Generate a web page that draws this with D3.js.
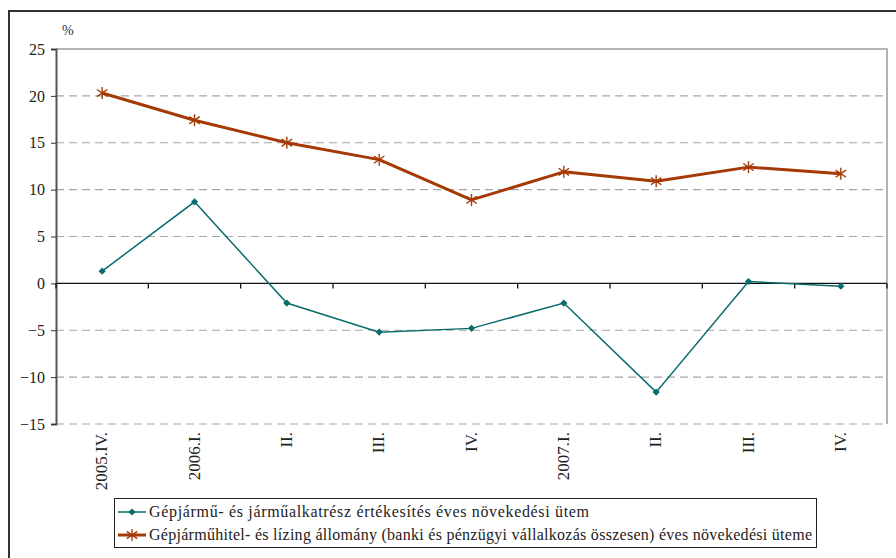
<!DOCTYPE html>
<html>
<head>
<meta charset="utf-8">
<script src="https://cdn.jsdelivr.net/npm/d3@7"></script>
<style>
  html, body { margin: 0; padding: 0; background: #fff; }
  svg { display: block; }
</style>
</head>
<body>
<svg id="chart" width="896" height="558"></svg>
<script>
// Quarterly categories
const categories = ["2005.IV.", "2006.I.", "II.", "III.", "IV.", "2007.I.", "II.", "III.", "IV."];
// Annual growth of vehicle and parts sales (%)
const salesGrowth = [1.3, 8.7, -2.1, -5.2, -4.8, -2.1, -11.6, 0.2, -0.3];
// Annual growth of vehicle loan and leasing stock (%)
const loanGrowth = [20.3, 17.4, 15.0, 13.2, 8.9, 11.9, 10.9, 12.4, 11.7];
const yTicks = [-15, -10, -5, 0, 5, 10, 15, 20, 25];
const seriesNames = [
  "Gépjármű- és járműalkatrész értékesítés éves növekedési ütem",
  "Gépjárműhitel- és lízing állomány (banki és pénzügyi vállalkozás összesen) éves növekedési üteme"
];

const FONT = "'Liberation Serif', 'Times New Roman', serif";
const tealColor = "#0A6B6B";
const brownColor = "#A63A06";

const svg = d3.select("#chart");
const plot = { left: 56, right: 887, top: 49, bottom: 424 };

// Outer frame
svg.append("path")
  .attr("d", "M9,558 L9,11 L896,11")
  .attr("fill", "none").attr("stroke", "#333").attr("stroke-width", 2);

const x = d3.scaleBand().domain(d3.range(categories.length))
  .range([plot.left, plot.right]).paddingInner(0).paddingOuter(0);
const y = d3.scaleLinear().domain([-15, 25]).range([plot.bottom, plot.top]);

// Plot area frame (top and right)
svg.append("path")
  .attr("d", `M${plot.left},${plot.top} L${plot.right},${plot.top} L${plot.right},${plot.bottom}`)
  .attr("fill", "none").attr("stroke", "#9a9a9a").attr("stroke-width", 1.5);

// Dashed gridlines
svg.append("g").selectAll("line")
  .data(yTicks.filter(t => t !== 0 && t !== 25))
  .join("line")
  .attr("x1", plot.left).attr("x2", plot.right)
  .attr("y1", d => y(d)).attr("y2", d => y(d))
  .attr("stroke", "#a6a6a6").attr("stroke-width", 1.2)
  .attr("stroke-dasharray", "8,5");

// Y axis
const yAxis = d3.axisLeft(y).tickValues(yTicks).tickSize(5).tickPadding(6).tickFormat(d3.format("d"));
const yg = svg.append("g").attr("transform", `translate(${plot.left},0)`).call(yAxis)
  .attr("font-family", FONT).attr("font-size", 16);
yg.select(".domain").attr("stroke", "#555").attr("stroke-width", 2);
yg.selectAll(".tick line").attr("stroke", "#333");
yg.selectAll(".tick text").attr("fill", "#222");

// Zero line with category boundary ticks
const boundaries = d3.range(categories.length + 1).map(i => plot.left + i * x.bandwidth());
svg.append("line")
  .attr("x1", plot.left).attr("x2", plot.right)
  .attr("y1", y(0)).attr("y2", y(0))
  .attr("stroke", "#111").attr("stroke-width", 1.3);
svg.append("g").selectAll("line").data(boundaries).join("line")
  .attr("x1", d => d).attr("x2", d => d)
  .attr("y1", y(0)).attr("y2", y(0) + 5)
  .attr("stroke", "#111").attr("stroke-width", 1.3);

// Category labels (rotated)
svg.append("g").attr("font-family", FONT).attr("font-size", 17).attr("fill", "#222")
  .selectAll("text").data(categories).join("text")
  .attr("transform", (d, i) => `translate(${x(i) + x.bandwidth() / 2 + 5},432) rotate(-90)`)
  .attr("text-anchor", "end")
  .text(d => d);

// Unit label
svg.append("text").attr("x", 62).attr("y", 35).attr("font-family", FONT)
  .attr("font-size", 14).attr("fill", "#333").text("%");

const cx = i => x(i) + x.bandwidth() / 2;
const line = d3.line().x((d, i) => cx(i)).y(d => y(d));

// Loan / leasing series
svg.append("path").datum(loanGrowth)
  .attr("d", line).attr("fill", "none")
  .attr("stroke", brownColor).attr("stroke-width", 3).attr("stroke-linejoin", "round");

function asterisk(g, px, py, r, color, w) {
  [[0, -r, 0, r], [-r * 0.87, -r * 0.6, r * 0.87, r * 0.6], [-r * 0.87, r * 0.6, r * 0.87, -r * 0.6]]
    .forEach(s => g.append("line")
      .attr("x1", px + s[0]).attr("y1", py + s[1]).attr("x2", px + s[2]).attr("y2", py + s[3])
      .attr("stroke", color).attr("stroke-width", w));
}
const starG = svg.append("g");
loanGrowth.forEach((v, i) => asterisk(starG, cx(i), y(v), 6, brownColor, 1.4));

// Sales series
svg.append("path").datum(salesGrowth)
  .attr("d", line).attr("fill", "none")
  .attr("stroke", tealColor).attr("stroke-width", 1.5);
const diamond = d3.symbol().type(d3.symbolSquare).size(26);
svg.append("g").selectAll("path").data(salesGrowth).join("path")
  .attr("transform", (d, i) => `translate(${cx(i)},${y(d)}) rotate(45)`)
  .attr("d", diamond).attr("fill", tealColor);

// Legend
const lg = svg.append("g");
lg.append("rect").attr("x", 114.5).attr("y", 498.5).attr("width", 702).attr("height", 49)
  .attr("fill", "#fff").attr("stroke", "#222").attr("stroke-width", 1);
lg.append("line").attr("x1", 118).attr("x2", 146).attr("y1", 512).attr("y2", 512)
  .attr("stroke", tealColor).attr("stroke-width", 1.5);
lg.append("path").attr("transform", "translate(132,512) rotate(45)").attr("d", diamond).attr("fill", tealColor);
lg.append("line").attr("x1", 118).attr("x2", 146).attr("y1", 535).attr("y2", 535)
  .attr("stroke", brownColor).attr("stroke-width", 3);
asterisk(lg, 132, 535, 6, brownColor, 1.4);
lg.append("text").attr("x", 149).attr("y", 517).attr("font-family", FONT).attr("font-size", 16)
  .attr("fill", "#222").attr("textLength", 440).text(seriesNames[0]);
lg.append("text").attr("x", 149).attr("y", 540).attr("font-family", FONT).attr("font-size", 16)
  .attr("fill", "#222").attr("textLength", 663).text(seriesNames[1]);
</script>
</body>
</html>
